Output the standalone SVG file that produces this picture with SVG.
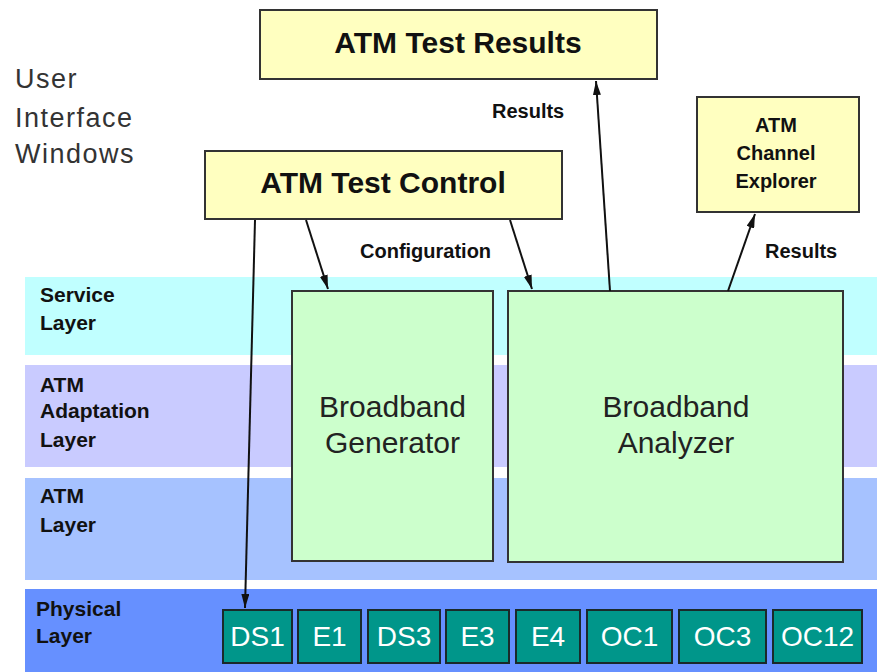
<svg xmlns="http://www.w3.org/2000/svg" width="877" height="672" viewBox="0 0 877 672">
<style>
.band{stroke:none}
.win rect{fill:#FFFFC0;stroke:#333;stroke-width:2}
.win text{font-family:"Liberation Sans",Arial,sans-serif;font-weight:bold;fill:#111;stroke:none;text-anchor:middle}
.blk{fill:#CCFFCC;stroke:#333;stroke-width:2}
.blkt{font-family:"Liberation Sans",Arial,sans-serif;font-size:30px;fill:#222;text-anchor:middle}
.phy rect{fill:#00968A;stroke:#1a2a2a;stroke-width:2}
.phy text{font-family:"Liberation Sans",Arial,sans-serif;font-size:28px;fill:#fff;text-anchor:middle}
.lay{font-family:"Liberation Sans",Arial,sans-serif;font-weight:bold;font-size:21px;fill:#111}
.lbl{font-family:"Liberation Sans",Arial,sans-serif;font-weight:bold;font-size:20px;fill:#111}
.con{stroke:#111;stroke-width:2;fill:none;marker-end:url(#ah)}
</style>
<defs>
<marker id="ah" viewBox="0 0 14 8" refX="14" refY="4" markerWidth="7" markerHeight="4" orient="auto" markerUnits="strokeWidth">
<path d="M0,0 L14,4 L0,8 z" fill="#111"/>
</marker>
</defs>
<rect width="877" height="672" fill="#fff"/>
<g id="bands">
<rect class="band" x="25" y="277" width="852" height="78" fill="#C0FFFF"/>
<rect class="band" x="25" y="365" width="852" height="102" fill="#C9CBFF"/>
<rect class="band" x="25" y="478" width="852" height="102" fill="#A6C2FF"/>
<rect class="band" x="25" y="589" width="852" height="83" fill="#6690FF"/>
<text class="lay" x="40" y="302">Service</text>
<text class="lay" x="40" y="330">Layer</text>
<text class="lay" x="40" y="392">ATM</text>
<text class="lay" x="40" y="418">Adaptation</text>
<text class="lay" x="40" y="447">Layer</text>
<text class="lay" x="40" y="503">ATM</text>
<text class="lay" x="40" y="532">Layer</text>
<text class="lay" x="36" y="616">Physical</text>
<text class="lay" x="36" y="643">Layer</text>
</g>
<g id="ui-label" font-family="'Liberation Sans',Arial,sans-serif" font-size="27px" fill="#333" letter-spacing="1.5">
<text x="15" y="88">User</text>
<text x="15" y="127">Interface</text>
<text x="15" y="163">Windows</text>
</g>
<g id="atm-test-results" class="win">
<rect x="260" y="10" width="397" height="69"/>
<text x="458" y="53" font-size="30px">ATM Test Results</text>
</g>
<g id="atm-test-control" class="win">
<rect x="205" y="151" width="357" height="68"/>
<text x="383" y="193" font-size="30px">ATM Test Control</text>
</g>
<g id="atm-channel-explorer" class="win">
<rect x="697" y="97" width="162" height="115"/>
<text x="776" y="132" font-size="20px">ATM</text>
<text x="776" y="160" font-size="20px">Channel</text>
<text x="776" y="188" font-size="20px">Explorer</text>
</g>
<g id="broadband-generator">
<rect class="blk" x="292" y="291" width="201" height="270"/>
<text class="blkt" x="392.5" y="417">Broadband</text>
<text class="blkt" x="392.5" y="453">Generator</text>
</g>
<g id="broadband-analyzer">
<rect class="blk" x="508" y="291" width="335" height="271"/>
<text class="blkt" x="676" y="417">Broadband</text>
<text class="blkt" x="676" y="453">Analyzer</text>
</g>
<g id="physical" class="phy">
<g id="ds1"><rect x="223" y="610" width="69" height="53"/><text x="257.5" y="646">DS1</text></g>
<g id="e1"><rect x="298" y="610" width="63" height="53"/><text x="329.5" y="646">E1</text></g>
<g id="ds3"><rect x="368" y="610" width="72" height="53"/><text x="404" y="646">DS3</text></g>
<g id="e3"><rect x="446" y="610" width="63" height="53"/><text x="477.5" y="646">E3</text></g>
<g id="e4"><rect x="516" y="610" width="64" height="53"/><text x="548" y="646">E4</text></g>
<g id="oc1"><rect x="587" y="610" width="85" height="53"/><text x="629.5" y="646">OC1</text></g>
<g id="oc3"><rect x="679" y="610" width="87" height="53"/><text x="722.5" y="646">OC3</text></g>
<g id="oc12"><rect x="773" y="610" width="89" height="53"/><text x="817.5" y="646">OC12</text></g>
</g>
<g id="connectors">
<path class="con" d="M306,220 L328,289"/>
<path class="con" d="M510,220 L532,289"/>
<path class="con" d="M610,291 L596,81"/>
<path class="con" d="M728,291 L755,214"/>
<path class="con" d="M255,220 L245,608"/>
<text class="lbl" x="492" y="118">Results</text>
<text class="lbl" x="360" y="258">Configuration</text>
<text class="lbl" x="765" y="258">Results</text>
</g>
</svg>
